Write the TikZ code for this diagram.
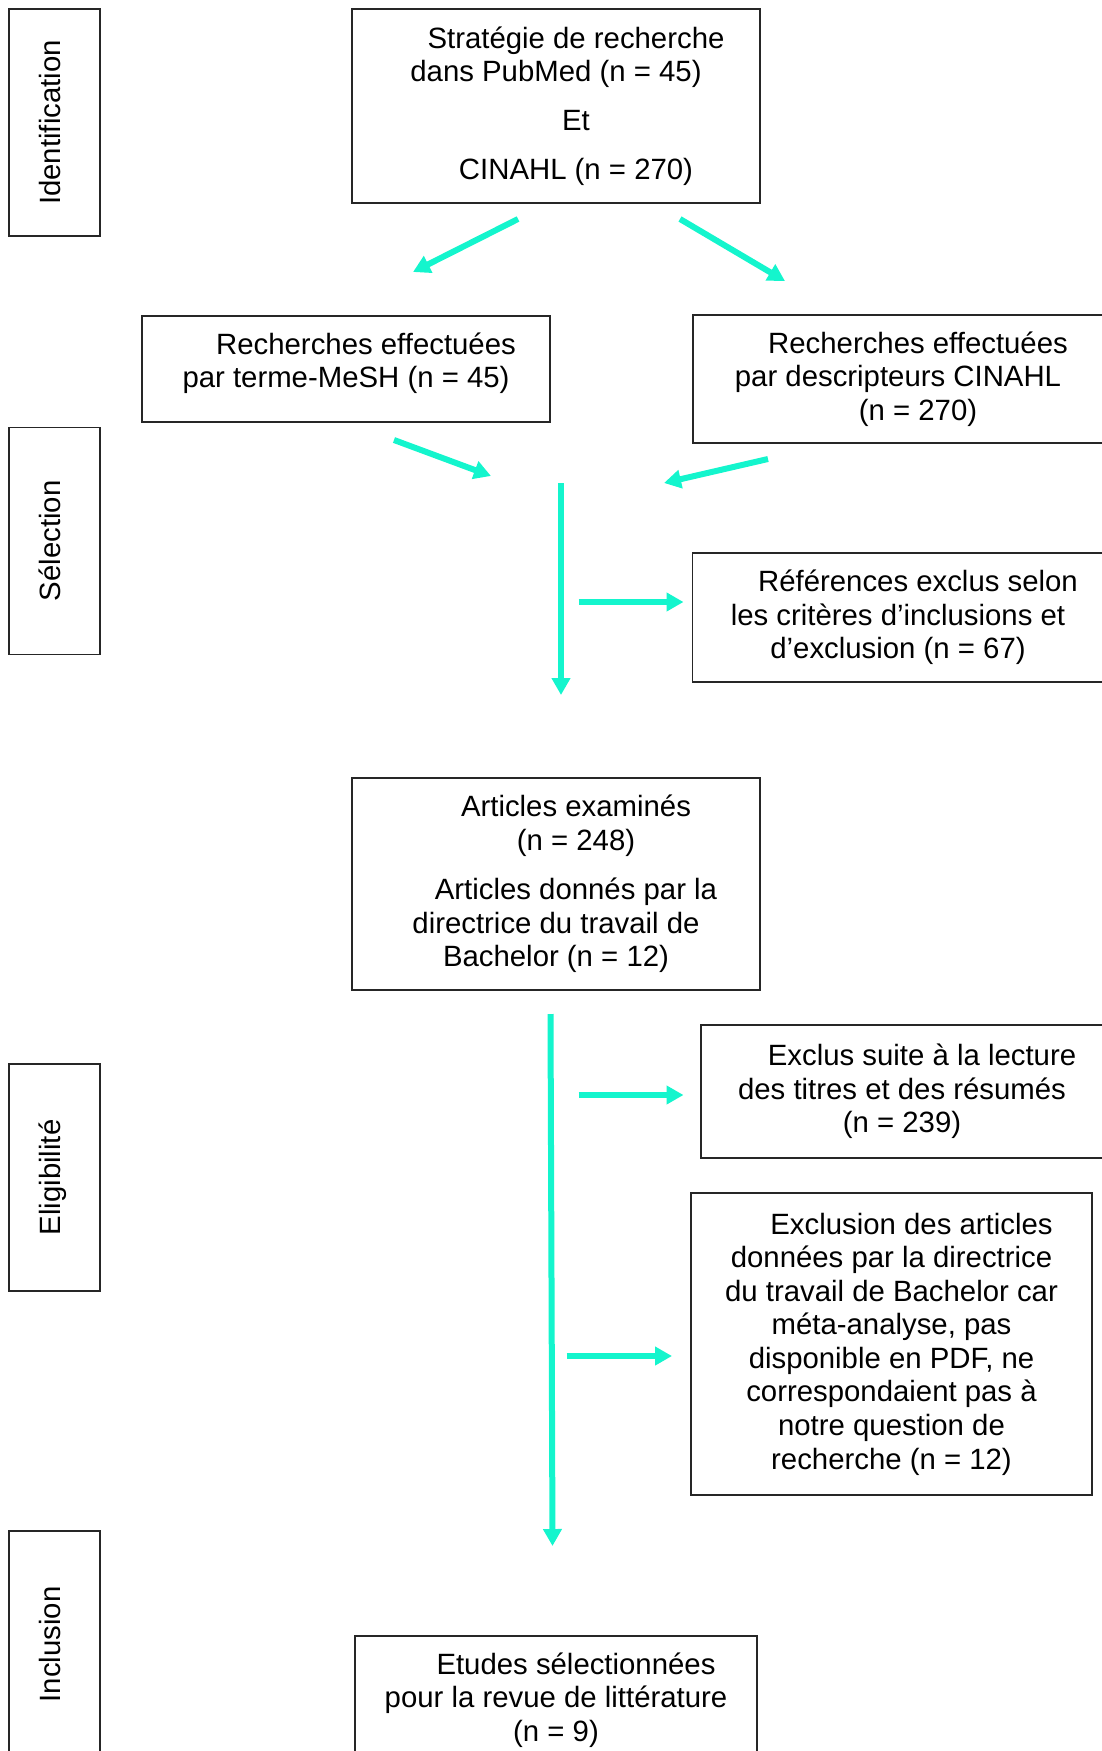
\documentclass[tikz,border=0pt]{standalone}
\usepackage{fontspec}
\setmainfont{Liberation Sans}
\usetikzlibrary{arrows.meta}
\definecolor{turquoise}{RGB}{20,245,205}
\newcommand{\ind}{\hspace*{0.8cm}}
\begin{document}
\begin{tikzpicture}[
    box/.style={draw=black!85, line width=0.8pt, align=center, inner sep=0pt,
      font=\fontsize{16.7}{19.1}\selectfont},
    phase/.style={draw=black!85, line width=0.8pt, rotate=90, inner sep=0pt,
      text height=0.43cm, text depth=0.2cm,
      minimum width=4.54cm, minimum height=1.82cm, font=\fontsize{16.7}{19.1}\selectfont},
    fleche/.style={draw=turquoise, line width=0.12cm, -{Triangle[length=0.34cm,width=0.36cm]}}
  ]
  \useasboundingbox (0,0) rectangle (22.02,-35.02);

  % Phases
  \node[phase] (identification) at (1.09,-2.45) {Identification};
  \node[phase] (selection) at (1.09,-10.82) {Sélection};
  \node[phase] (eligibilite) at (1.09,-23.55) {Eligibilité};
  \node[phase] (inclusion) at (1.09,-32.89) {Inclusion};

  % Cases
  \node[box, minimum width=8.16cm, minimum height=3.88cm] (strategie) at (11.12,-2.12)
    {\ind Stratégie de recherche\\ dans PubMed (n = 45)\\[0.3cm] \ind Et\\[0.3cm] \ind CINAHL (n = 270)};
  \node[box, minimum width=8.16cm, minimum height=2.12cm, text depth=0.345cm] (mesh) at (6.92,-7.38)
    {\ind Recherches effectuées\\ par terme-MeSH (n = 45)};
  \node[box, minimum width=8.2cm, minimum height=2.56cm] (cinahl) at (17.96,-7.58)
    {\ind Recherches effectuées\\ par descripteurs CINAHL\\ \ind (n = 270)};
  \node[box, minimum width=8.22cm, minimum height=2.58cm] (references) at (17.96,-12.35)
    {\ind Références exclus selon\\ les critères d’inclusions et\\ d’exclusion (n = 67)};
  \node[box, minimum width=8.16cm, minimum height=4.24cm] (articles) at (11.12,-17.68)
    {\ind Articles examinés\\ \ind (n = 248)\\[0.32cm] \ind Articles donnés par la\\ directrice du travail de\\ Bachelor (n = 12)};
  \node[box, minimum width=8.04cm, minimum height=2.66cm] (exclus) at (18.04,-21.83)
    {\ind Exclus suite à la lecture\\ des titres et des résumés\\ (n = 239)};
  \node[box, minimum width=8.02cm, minimum height=6.04cm] (exclusion) at (17.83,-26.88)
    {\ind Exclusion des articles\\ données par la directrice\\ du travail de Bachelor car\\ méta-analyse, pas\\ disponible en PDF, ne\\ correspondaient pas à\\ notre question de\\ recherche (n = 12)};
  \node[box, minimum width=8.04cm, minimum height=2.56cm] (etudes) at (11.12,-34.0)
    {\ind Etudes sélectionnées\\ pour la revue de littérature\\ (n = 9)};

  % Points des flèches
  \coordinate (s1) at (10.36,-4.38);  \coordinate (e1) at (8.26,-5.44);
  \coordinate (s2) at (13.6,-4.38);   \coordinate (e2) at (15.7,-5.62);
  \coordinate (s3) at (7.88,-8.8);    \coordinate (e3) at (9.82,-9.52);
  \coordinate (s4) at (15.36,-9.18);  \coordinate (e4) at (13.28,-9.66);
  \coordinate (s5) at (11.22,-9.66);  \coordinate (e5) at (11.22,-13.9);
  \coordinate (s6) at (11.57,-12.04); \coordinate (e6) at (13.67,-12.04);
  \coordinate (s7) at (11.01,-20.28); \coordinate (e7) at (11.05,-30.92);
  \coordinate (s8) at (11.57,-21.9);  \coordinate (e8) at (13.67,-21.9);
  \coordinate (s9) at (11.33,-27.12); \coordinate (e9) at (13.44,-27.12);

  % Flèches
  \draw[fleche] (s1) -- (e1);
  \draw[fleche] (s2) -- (e2);
  \draw[fleche] (s3) -- (e3);
  \draw[fleche] (s4) -- (e4);
  \draw[fleche] (s5) -- (e5);
  \draw[fleche] (s6) -- (e6);
  \draw[fleche] (s7) -- (e7);
  \draw[fleche] (s8) -- (e8);
  \draw[fleche] (s9) -- (e9);
\end{tikzpicture}
\end{document}
